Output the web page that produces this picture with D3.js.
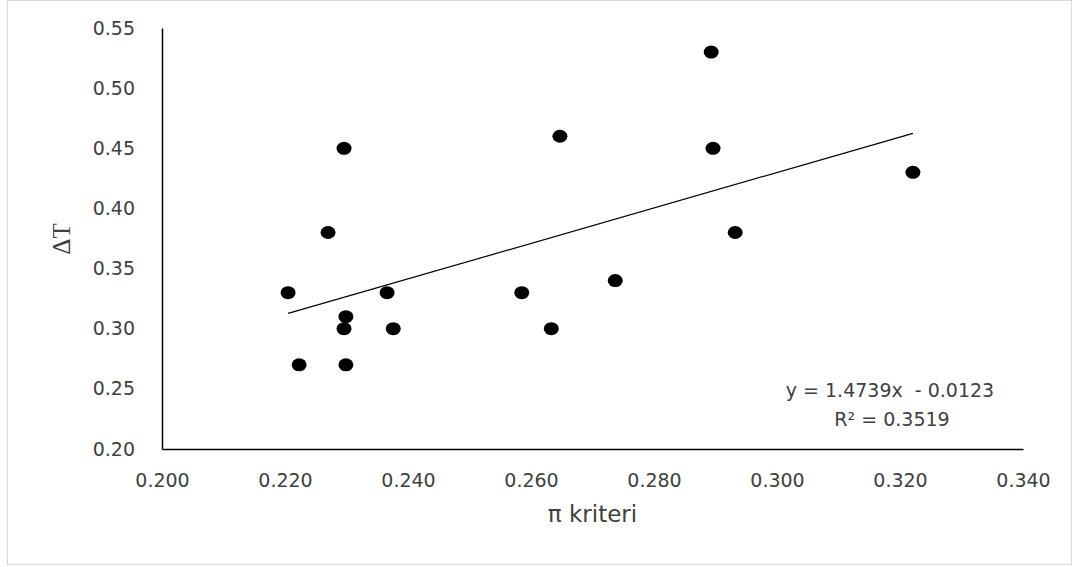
<!DOCTYPE html>
<html>
<head>
<meta charset="utf-8">
<script src="https://cdn.jsdelivr.net/npm/d3@7"></script>
<style>
  body { margin: 0; background: #fff; }
  .tick text { font-family: "DejaVu Sans", Verdana, sans-serif; font-size: 19px; fill: #404040; }
</style>
</head>
<body>
<div id="chart"></div>
<script>
// data
var piValues = [0.2205, 0.2223, 0.2270, 0.2296, 0.2296, 0.2299, 0.2299, 0.2366, 0.2376,
                0.2585, 0.2633, 0.2647, 0.2737, 0.2893, 0.2896, 0.2932, 0.3221];
var dTValues = [0.33, 0.27, 0.38, 0.45, 0.30, 0.31, 0.27, 0.33, 0.30,
                0.33, 0.30, 0.46, 0.34, 0.53, 0.45, 0.38, 0.43];
var xTicks = [0.200, 0.220, 0.240, 0.260, 0.280, 0.300, 0.320, 0.340];
var yTicks = [0.20, 0.25, 0.30, 0.35, 0.40, 0.45, 0.50, 0.55];
var slope = 1.4739, intercept = -0.0123, r2 = 0.3519;

var W = 1073, H = 567;
var margin = {top: 28, right: 50, bottom: 118, left: 162},
    width = W - margin.left - margin.right,
    height = H - margin.top - margin.bottom;

var svg = d3.select("#chart").append("svg")
    .attr("width", W)
    .attr("height", H);

// outer chart border
svg.append("rect")
    .attr("x", 7.5).attr("y", 0.5)
    .attr("width", W - 9).attr("height", H - 3)
    .attr("fill", "#fff")
    .attr("stroke", "#d9d9d9");

var g = svg.append("g")
    .attr("transform", "translate(" + margin.left + "," + margin.top + ")");

var x = d3.scaleLinear().domain([0.2, 0.34]).range([0, width]);
var y = d3.scaleLinear().domain([0.2, 0.55]).range([height, 0]);

// X axis
var xAxis = g.append("g")
    .attr("transform", "translate(0," + height + ")")
    .call(d3.axisBottom(x).tickValues(xTicks).tickFormat(d3.format(".3f")).tickSize(0).tickPadding(25));
xAxis.select(".domain").attr("stroke", "#000").attr("stroke-width", 1.5);

// Y axis
var yAxis = g.append("g")
    .call(d3.axisLeft(y).tickValues(yTicks).tickFormat(d3.format(".2f")).tickSize(0).tickPadding(27));
yAxis.select(".domain").attr("stroke", "#000").attr("stroke-width", 1.5);

// trendline across the data range
var xMin = d3.min(piValues), xMax = d3.max(piValues);
g.append("line")
    .attr("x1", x(xMin)).attr("y1", y(slope * xMin + intercept))
    .attr("x2", x(xMax)).attr("y2", y(slope * xMax + intercept))
    .attr("stroke", "#000")
    .attr("stroke-width", 1.2);

// points
g.selectAll(".dot")
    .data(piValues)
    .enter().append("ellipse")
    .attr("class", "dot")
    .attr("cx", function(d) { return x(d); })
    .attr("cy", function(d, i) { return y(dTValues[i]); })
    .attr("rx", 7.5)
    .attr("ry", 6.5)
    .attr("fill", "#000");

// equation label
g.append("text")
    .attr("x", 728).attr("y", 369)
    .attr("text-anchor", "middle")
    .style("font-family", "'DejaVu Sans', Verdana, sans-serif")
    .style("font-size", "19px")
    .attr("fill", "#404040")
    .attr("xml:space", "preserve")
    .text("y = " + slope + "x  - " + Math.abs(intercept));

g.append("text")
    .attr("x", 730).attr("y", 398)
    .attr("text-anchor", "middle")
    .style("font-family", "'DejaVu Sans', Verdana, sans-serif")
    .style("font-size", "19px")
    .attr("fill", "#404040")
    .text("R² = " + r2);

// axis titles
svg.append("text")
    .attr("x", margin.left + width / 2)
    .attr("y", 522)
    .attr("text-anchor", "middle")
    .style("font-family", "'DejaVu Sans', Verdana, sans-serif")
    .style("font-size", "23px")
    .attr("fill", "#404040")
    .text("π kriteri");

svg.append("text")
    .attr("transform", "translate(70,239) rotate(-90)")
    .attr("text-anchor", "middle")
    .style("font-family", "'Liberation Serif', 'Times New Roman', serif")
    .style("font-size", "25px")
    .attr("fill", "#404040")
    .text("ΔT");
</script>
</body>
</html>
